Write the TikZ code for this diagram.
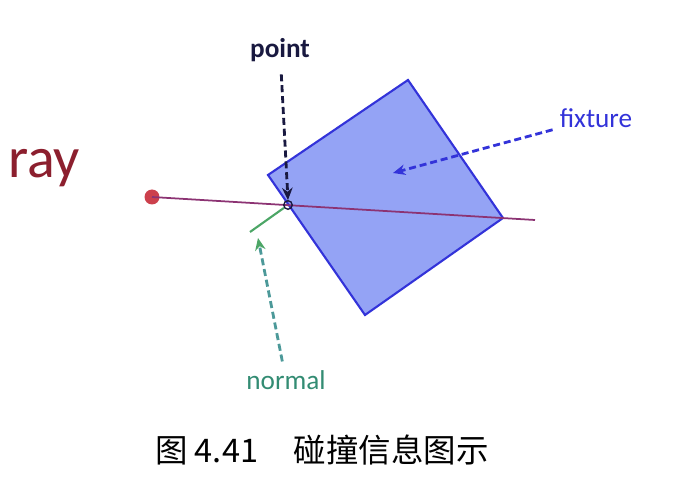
\documentclass[tikz,border=0pt]{standalone}
\usepackage{fontspec}
\setmainfont{Carlito}
\newfontfamily\cjk{Noto Sans CJK SC}
\usetikzlibrary{arrows.meta, positioning}

\definecolor{raytxt}{rgb}{0.55,0.12,0.18}
\definecolor{raydot}{rgb}{0.80,0.25,0.30}
\definecolor{rayline}{rgb}{0.55,0.20,0.45}
\definecolor{navy}{rgb}{0.10,0.10,0.25}
\definecolor{fixblue}{rgb}{0.20,0.20,0.85}
\definecolor{fixfill}{rgb}{0.58,0.64,0.96}
\definecolor{normtxt}{rgb}{0.20,0.55,0.45}
\definecolor{normline}{rgb}{0.30,0.65,0.40}
\definecolor{normdash}{rgb}{0.30,0.60,0.60}

\begin{document}
\begin{tikzpicture}[>={Stealth[length=7pt, width=6pt]}, x=0.02cm, y=-0.02cm]
      \useasboundingbox (0,0) rectangle (680,486);

      % Define the style for the labels and pointers
      \tikzstyle{tag}=[inner sep=1pt, font=\fontsize{15.5}{18}\selectfont]
      \tikzstyle{pointer}=[draw, line width=1.6pt, dash pattern=on 4pt off 2.2pt, ->, shorten <=3pt]

      % Fixture
      \coordinate (f1) at (268,175);
      \coordinate (f2) at (408,80);
      \coordinate (f3) at (503,218);
      \coordinate (f4) at (365,315);
      \draw[fixblue, fill=fixfill, line width=1.2pt] (f1) -- (f2) -- (f3) -- (f4) -- cycle;

      % Ray
      \node[circle, fill=raydot, inner sep=0pt, minimum size=3mm] (o) at (152,197) {};
      \coordinate (e) at (535,220);
      \draw[rayline, line width=1pt] (o.center) -- (e);

      % Hit point and normal
      \node[circle, draw=navy, thick, inner sep=0pt, minimum size=0.17cm] (hit) at (288,205) {};
      \coordinate (n) at (250,232);
      \draw[normline, line width=1.2pt] (hit) -- (n);

      % Labels
      \node[text=raytxt, font=\fontsize{33}{36}\selectfont] (ray) at (44,168) {ray};
      \node[tag, text=navy, font=\fontsize{15.5}{18}\selectfont\bfseries] (pt) at (280,50) {point};
      \node[tag, text=fixblue] (fix) at (596,118) {fixture};
      \node[tag, text=normtxt] (nrm) at (286,380) {normal};

      % Pointers
      \draw[pointer, navy, shorten <=6pt] (pt) -- (hit.north);
      \draw[pointer, fixblue] (fix) -- (393,173);
      \draw[pointer, normdash, -{Stealth[normline, length=7pt, width=6pt]}, shorten <=4pt] (nrm) -- (258,238);

      % Caption
      \node[font=\fontsize{18.5}{22}\selectfont\cjk] (cap) at (322,450) {图 4.41\hspace{1.1em}碰撞信息图示};

    \end{tikzpicture}
\end{document}
